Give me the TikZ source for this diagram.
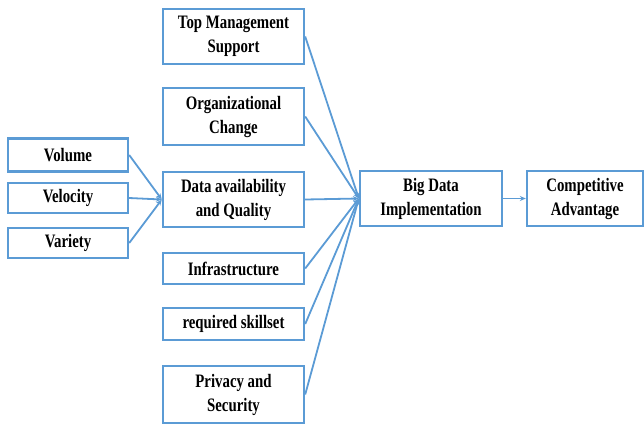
\documentclass[tikz,border=0pt]{standalone}
\usepackage{fontspec}
\setmainfont{Liberation Serif}[FakeStretch=0.78]
\usetikzlibrary{arrows.meta,positioning}
\definecolor{boxblue}{HTML}{5B9BD5}
\tikzset{
  factor/.style={draw=boxblue, line width=2.4pt, fill=white, align=center,
    font=\fontsize{19}{24}\selectfont\bfseries, inner sep=2pt},
  link/.style={draw=boxblue, line width=1.8pt, -{Stealth[length=6pt,width=5pt]}}
}

\begin{document}
\begin{tikzpicture}[x=1pt, y=-1pt]
\useasboundingbox (0,0) rectangle (644,424);
% factors
\node[factor, minimum width=141pt, minimum height=55pt] (topm) at (233.5,36.5) {Top Management\\Support};
\node[factor, minimum width=141pt, minimum height=57pt] (orgch) at (233.5,116.5) {Organizational\\Change};
\node[factor, minimum width=141pt, minimum height=55pt] (dataq) at (233.5,199.5) {Data availability\\and Quality};
\node[factor, minimum width=141pt, minimum height=31pt] (infra) at (233.5,268.5) {Infrastructure};
\node[factor, minimum width=141pt, minimum height=32pt] (skill) at (233.5,324) {required skillset};
\node[factor, minimum width=141pt, minimum height=57pt] (privsec) at (233.5,394.5) {Privacy and\\Security};
% data characteristics
\node[factor, minimum width=120pt, minimum height=33pt] (volume) at (68,155) {Volume};
\node[factor, minimum width=120pt, minimum height=30pt] (velocity) at (68,198) {Velocity};
\node[factor, minimum width=120pt, minimum height=30pt] (variety) at (68,243) {Variety};
% outcome
\node[factor, minimum width=142pt, minimum height=55pt] (bigdata) at (431,198.5) {Big Data\\Implementation};
\node[factor, minimum width=116pt, minimum height=55pt] (compadv) at (585,198.5) {Competitive\\Advantage};

\foreach \v in {volume,velocity,variety}
  \draw[link] (\v.east) -- (dataq.west);
\foreach \f in {topm,orgch,dataq,infra,skill,privsec}
  \draw[link] (\f.east) -- (bigdata.west);
\draw[link] (bigdata) -- (compadv);
\end{tikzpicture}
\end{document}
